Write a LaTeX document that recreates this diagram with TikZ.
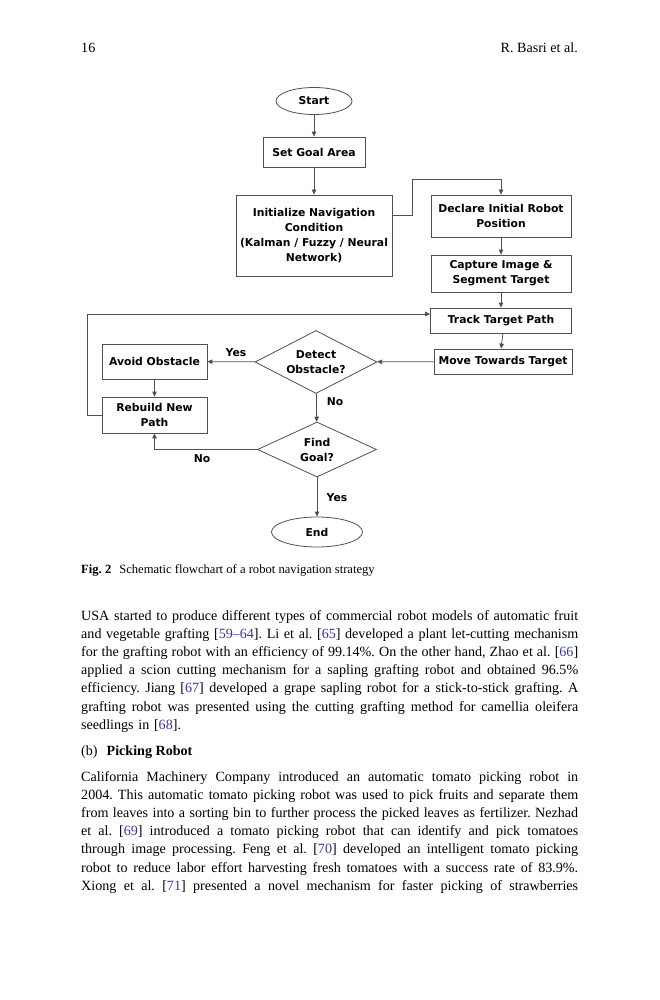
\documentclass[tikz,border=0pt]{standalone}
\usepackage{fontspec}
\setmainfont{Liberation Serif}
\newfontfamily\chartfont{DejaVu Sans}
\usetikzlibrary{shapes.geometric,arrows.meta}

\definecolor{citeblue}{RGB}{55,55,165}
\definecolor{chartline}{RGB}{80,80,80}
\newcommand{\refno}[1]{[\textcolor{citeblue}{#1}]}
\newcommand{\jline}[1]{\hbox to 497pt{\spaceskip=0.25em plus 0.6em minus 0.1em #1}}
\newcommand{\lastline}[1]{\hbox{#1}}
\frenchspacing

\begin{document}
\begin{tikzpicture}[x=1pt,y=-1pt,
    chart/.style={font={\chartfont\bfseries\fontsize{10.8}{15}\selectfont}},
    box/.style={chart, draw=chartline, line width=0.8pt, rectangle, align=center, inner sep=1pt},
    terminal/.style={chart, draw=chartline, line width=0.8pt, ellipse, inner sep=0pt},
    decision/.style={chart, draw=chartline, line width=0.8pt, diamond, aspect=2, align=center, inner sep=0pt},
    link/.style={draw=chartline, line width=0.8pt, -{Triangle[length=5pt,width=4.5pt]}},
    lbl/.style={chart, inner sep=0pt},
    body/.style={inner sep=0pt, font=\fontsize{14.1}{18.2}\selectfont}]

    \useasboundingbox (0,0) rectangle (659,1000);

    % running head
    \node[body, anchor=west] (pageno) at (81,48) {16};
    \node[body, anchor=east] (authors) at (578,48) {R. Basri et al.};

    % flowchart
    \node[terminal, minimum width=76pt, minimum height=27pt] (start) at (314,101) {Start};
    \node[box, minimum width=102pt, minimum height=30pt] (goal) at (314,152) {Set Goal Area};
    \node[box, minimum width=156pt, minimum height=81pt] (init) at (314,235.5)
        {Initialize Navigation\\Condition\\(Kalman / Fuzzy / Neural\\Network)};
    \node[box, minimum width=140pt, minimum height=42pt] (declare) at (501,216) {Declare Initial Robot\\Position};
    \node[box, minimum width=140pt, minimum height=37pt] (capture) at (501,273.5) {Capture Image \&\\Segment Target};
    \node[box, minimum width=141pt, minimum height=25pt] (track) at (501,320.5) {Track Target Path};
    \node[box, minimum width=138pt, minimum height=25pt] (move) at (503,361.5) {Move Towards Target};
    \node[decision, minimum width=122pt, minimum height=63pt] (detect) at (316,362) {Detect\\Obstacle?};
    \node[box, minimum width=105pt, minimum height=35pt] (avoid) at (154.5,361.5) {Avoid Obstacle};
    \node[box, minimum width=105pt, minimum height=36pt] (rebuild) at (154.5,415) {Rebuild New\\Path};
    \node[decision, minimum width=119pt, minimum height=55pt] (find) at (317,449.5) {Find\\Goal?};
    \node[terminal, minimum width=91pt, minimum height=30pt] (finish) at (317,532) {End};

    \coordinate (initout) at (392,215);
    \coordinate (bend) at (412,179);
    \coordinate (loop) at (87,314);

    \draw[link] (start) -- (goal);
    \draw[link] (goal) -- (init);
    \draw[link] (initout) -| (bend) -| (declare.north);
    \draw[link] (declare) -- (capture);
    \draw[link] (capture) -- (track);
    \draw[link] (track.south -| move.north) -- (move.north -| track.south);
    \draw[link] (move) -- (detect);
    \draw[link] (detect) -- (avoid);
    \draw[link] (avoid) -- (rebuild);
    \draw[link] (rebuild.west) -| (loop) -- (track.west |- loop);
    \draw[link] (detect) -- (find);
    \draw[link] (find.west) -| (rebuild.south);
    \draw[link] (find) -- (finish);

    \node[lbl] (yes1) at (236,353) {Yes};
    \node[lbl] (no1) at (335,402) {No};
    \node[lbl] (no2) at (202,459) {No};
    \node[lbl] (yes2) at (337,498) {Yes};

    % caption
    \node[anchor=west, inner sep=0pt, font=\fontsize{12.6}{16}\selectfont] (caption) at (81,570)
        {\textbf{Fig. 2}\hspace{8pt}Schematic flowchart of a robot navigation strategy};

    % text
    \node[body, anchor=north west, text width=497pt] (para1) at (81,610) {%
        \jline{USA started to produce different types of commercial robot models of automatic fruit}
        \jline{and vegetable grafting \refno{59--64}. Li et al. \refno{65} developed a plant let-cutting mechanism}
        \jline{for the grafting robot with an efficiency of 99.14\%. On the other hand, Zhao et al. \refno{66}}
        \jline{applied a scion cutting mechanism for a sapling grafting robot and obtained 96.5\%}
        \jline{efficiency. Jiang \refno{67} developed a grape sapling robot for a stick-to-stick grafting. A}
        \jline{grafting robot was presented using the cutting grafting method for camellia oleifera}
        \lastline{seedlings in \refno{68}.}};
    \node[body, anchor=west] (heading) at (81,752) {(b)\hspace{9pt}\textbf{Picking Robot}};
    \node[body, anchor=north west, text width=497pt] (para2) at (81,771) {%
        \jline{California Machinery Company introduced an automatic tomato picking robot in}
        \jline{2004. This automatic tomato picking robot was used to pick fruits and separate them}
        \jline{from leaves into a sorting bin to further process the picked leaves as fertilizer. Nezhad}
        \jline{et al. \refno{69} introduced a tomato picking robot that can identify and pick tomatoes}
        \jline{through image processing. Feng et al. \refno{70} developed an intelligent tomato picking}
        \jline{robot to reduce labor effort harvesting fresh tomatoes with a success rate of 83.9\%.}
        \jline{Xiong et al. \refno{71} presented a novel mechanism for faster picking of strawberries}};

\end{tikzpicture}
\end{document}
